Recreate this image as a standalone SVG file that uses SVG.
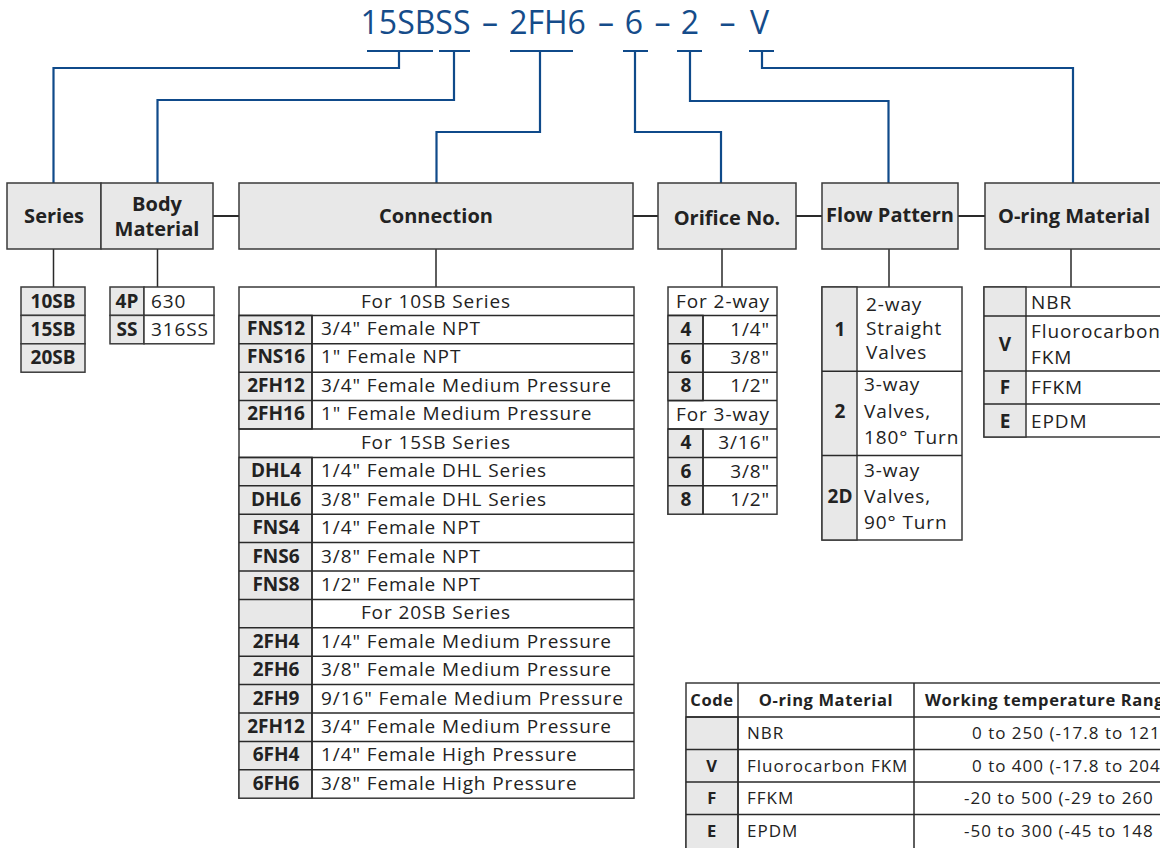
<svg xmlns="http://www.w3.org/2000/svg" width="1160" height="848" viewBox="0 0 1160 848">
<style>
text{font-family:"Open Sans","Noto Sans",sans-serif;fill:#222}
.hdr{fill:#e8e8e8;stroke:#3a3a3a;stroke-width:1.5}
.w{fill:#fff;stroke:#3a3a3a;stroke-width:1.5}
.g{fill:#e8e8e8;stroke:#3a3a3a;stroke-width:1.5}
.ln{stroke:#2a2a2a;stroke-width:1.5;fill:none}
.lk{stroke:#2a2a2a;stroke-width:2;fill:none}
.bl{stroke:#0f4a8a;stroke-width:2.2;fill:none}
.ttl{font-size:32px;fill:#154c8a}
.dash{font-size:32px;fill:#154c8a}
.h{font-weight:bold;font-size:20px}
.t{font-size:19px;letter-spacing:0.9px}
.b{font-weight:bold;font-size:19px}
.s{font-size:17px;letter-spacing:1px}
.sb{font-weight:bold;font-size:16.5px;letter-spacing:0.6px}
.m{text-anchor:middle}
.e{text-anchor:end}
</style>

<g id="title">
<text class="ttl m" x="415.5" y="34">15SBSS</text>
<text class="dash m" x="490" y="34">–</text>
<text class="ttl m" x="547.5" y="34">2FH6</text>
<text class="dash m" x="606" y="34">–</text>
<text class="ttl m" x="634" y="34">6</text>
<text class="dash m" x="662.5" y="34">–</text>
<text class="ttl m" x="690" y="34">2</text>
<text class="dash m" x="727.5" y="34">–</text>
<text class="ttl m" x="759.5" y="34">V</text>
</g>

<g id="connectors">
<path class="bl" d="M367 51H433M399 51V68H53.5V183"/>
<path class="bl" d="M439 51H470M454 51V100H157.5V183"/>
<path class="bl" d="M510 51H573M540 51V132H436.5V183"/>
<path class="bl" d="M623 51H648M635 51V132H721V183"/>
<path class="bl" d="M677 51H702M690 51V101H888.5V183"/>
<path class="bl" d="M749 51H774M762 51V68H1073V183"/>
<path class="lk" d="M213 216H239M633 216H658M796 216H822M958 216H985"/>
<path class="ln" d="M53.5 249V287M157.5 249V287M436 249V287M722 249V287M889 249V287M1071 249V287"/>
</g>

<g id="series">
<rect class="hdr" x="7" y="183" width="94" height="66"/>
<text class="h m" x="54" y="223">Series</text>
</g>
<g id="body-material">
<rect class="hdr" x="101" y="183" width="112" height="66"/>
<text class="h m" x="157" y="211">Body</text>
<text class="h m" x="157" y="236">Material</text>
</g>
<g id="connection">
<rect class="hdr" x="239" y="183" width="394" height="66"/>
<text class="h m" x="436" y="223">Connection</text>
</g>
<g id="orifice">
<rect class="hdr" x="658" y="183" width="138" height="66"/>
<text class="h m" x="727" y="225">Orifice No.</text>
</g>
<g id="flow-pattern">
<rect class="hdr" x="822" y="183" width="136" height="66"/>
<text class="h m" x="890" y="222">Flow Pattern</text>
</g>
<g id="oring">
<rect class="hdr" x="985" y="183" width="200" height="66"/>
<text class="h" x="998" y="223">O-ring Material</text>
</g>

<g id="series-table">
<rect class="g" x="21" y="287" width="64" height="28.4"/>
<rect class="g" x="21" y="315.4" width="64" height="28.4"/>
<rect class="g" x="21" y="343.8" width="64" height="28.4"/>
<text class="b m" x="53" y="307.5">10SB</text>
<text class="b m" x="53" y="335.9">15SB</text>
<text class="b m" x="53" y="364.3">20SB</text>
</g>

<g id="body-table">
<rect class="g" x="110" y="287" width="34" height="28.4"/>
<rect class="w" x="144" y="287" width="70" height="28.4"/>
<rect class="g" x="110" y="315.4" width="34" height="28.4"/>
<rect class="w" x="144" y="315.4" width="70" height="28.4"/>
<text class="b m" x="127" y="307.5">4P</text>
<text class="t" x="151" y="307.5">630</text>
<text class="b m" x="127" y="335.9">SS</text>
<text class="t" x="151" y="335.9">316SS</text>
</g>

<g id="connection-table">
<rect class="w" x="239" y="287" width="395" height="511.2"/>
<rect class="g" x="239" y="315.4" width="73" height="113.6"/>
<rect class="g" x="239" y="457.4" width="73" height="340.8"/>
<path class="ln" d="M312 315.4V429M312 457.4V798.2M239 315.4H634M239 343.8H634M239 372.2H634M239 400.6H634M239 429H634M239 457.4H634M239 485.8H634M239 514.2H634M239 542.6H634M239 571H634M239 599.4H634M239 627.8H634M239 656.2H634M239 684.6H634M239 713H634M239 741.4H634M239 769.8H634"/>
<text class="t m" x="436" y="307.5">For 10SB Series</text>
<text class="b m" x="276" y="335">FNS12</text><text class="t" x="321" y="335">3/4" Female NPT</text>
<text class="b m" x="276" y="363.4">FNS16</text><text class="t" x="321" y="363.4">1" Female NPT</text>
<text class="b m" x="276" y="391.8">2FH12</text><text class="t" x="321" y="391.8">3/4" Female Medium Pressure</text>
<text class="b m" x="276" y="420.2">2FH16</text><text class="t" x="321" y="420.2">1" Female Medium Pressure</text>
<text class="t m" x="436" y="449">For 15SB Series</text>
<text class="b m" x="276" y="477.4">DHL4</text><text class="t" x="321" y="477.4">1/4" Female DHL Series</text>
<text class="b m" x="276" y="505.8">DHL6</text><text class="t" x="321" y="505.8">3/8" Female DHL Series</text>
<text class="b m" x="276" y="534.2">FNS4</text><text class="t" x="321" y="534.2">1/4" Female NPT</text>
<text class="b m" x="276" y="562.6">FNS6</text><text class="t" x="321" y="562.6">3/8" Female NPT</text>
<text class="b m" x="276" y="591">FNS8</text><text class="t" x="321" y="591">1/2" Female NPT</text>
<text class="t m" x="436" y="619.4">For 20SB Series</text>
<text class="b m" x="276" y="647.8">2FH4</text><text class="t" x="321" y="647.8">1/4" Female Medium Pressure</text>
<text class="b m" x="276" y="676.2">2FH6</text><text class="t" x="321" y="676.2">3/8" Female Medium Pressure</text>
<text class="b m" x="276" y="704.6">2FH9</text><text class="t" x="321" y="704.6">9/16" Female Medium Pressure</text>
<text class="b m" x="276" y="733">2FH12</text><text class="t" x="321" y="733">3/4" Female Medium Pressure</text>
<text class="b m" x="276" y="761.4">6FH4</text><text class="t" x="321" y="761.4">1/4" Female High Pressure</text>
<text class="b m" x="276" y="789.8">6FH6</text><text class="t" x="321" y="789.8">3/8" Female High Pressure</text>
</g>

<g id="orifice-table">
<rect class="w" x="668" y="287" width="109" height="227.2"/>
<rect class="g" x="668" y="315.4" width="35" height="85.2"/>
<rect class="g" x="668" y="429" width="35" height="85.2"/>
<path class="ln" d="M703 315.4V400.6M703 429V514.2M668 315.4H777M668 343.8H777M668 372.2H777M668 400.6H777M668 429H777M668 457.4H777M668 485.8H777"/>
<text class="t m" x="723" y="307.5">For 2-way</text>
<text class="b m" x="686" y="335.5">4</text><text class="t e" x="770" y="335.5">1/4"</text>
<text class="b m" x="686" y="363.9">6</text><text class="t e" x="770" y="363.9">3/8"</text>
<text class="b m" x="686" y="392.3">8</text><text class="t e" x="770" y="392.3">1/2"</text>
<text class="t m" x="723" y="420.7">For 3-way</text>
<text class="b m" x="686" y="449.1">4</text><text class="t e" x="770" y="449.1">3/16"</text>
<text class="b m" x="686" y="477.5">6</text><text class="t e" x="770" y="477.5">3/8"</text>
<text class="b m" x="686" y="505.9">8</text><text class="t e" x="770" y="505.9">1/2"</text>
</g>

<g id="flow-table">
<rect class="w" x="822" y="287" width="140" height="253"/>
<rect class="g" x="822" y="287" width="35" height="253"/>
<path class="ln" d="M822 371.3H962M822 455.6H962"/>
<text class="b m" x="840" y="336">1</text>
<text class="t" x="866" y="311">2-way</text>
<text class="t" x="866" y="335">Straight</text>
<text class="t" x="866" y="359">Valves</text>
<text class="b m" x="840" y="418">2</text>
<text class="t" x="864" y="391">3-way</text>
<text class="t" x="864" y="418">Valves,</text>
<text class="t" x="864" y="444">180° Turn</text>
<text class="b m" x="840" y="503">2D</text>
<text class="t" x="864" y="477">3-way</text>
<text class="t" x="864" y="503">Valves,</text>
<text class="t" x="864" y="529">90° Turn</text>
</g>

<g id="oring-table">
<rect class="w" x="984" y="287" width="200" height="150"/>
<rect class="g" x="984" y="287" width="42" height="150"/>
<path class="ln" d="M984 316H1184M984 371H1184M984 404H1184"/>
<text class="t" x="1031" y="308.5">NBR</text>
<text class="b m" x="1005" y="351">V</text>
<text class="t" x="1031" y="338">Fluorocarbon</text>
<text class="t" x="1031" y="364">FKM</text>
<text class="b m" x="1005" y="394">F</text>
<text class="t" x="1031" y="394">FFKM</text>
<text class="b m" x="1005" y="428">E</text>
<text class="t" x="1031" y="428">EPDM</text>
</g>

<g id="temperature-table">
<rect class="w" x="686" y="683" width="500" height="170"/>
<rect class="g" x="686" y="717" width="52" height="136"/>
<path class="ln" d="M738 683V853M914 683V853M686 717H1186M686 749.5H1186M686 782H1186M686 814.5H1186"/>
<text class="sb m" x="712" y="706">Code</text>
<text class="sb m" x="826" y="706">O-ring Material</text>
<text class="sb" x="925" y="706">Working temperature Rang</text>
<text class="s" x="747" y="739">NBR</text>
<text class="s" x="972" y="739">0 to 250 (-17.8 to 121</text>
<text class="sb m" x="712" y="772">V</text>
<text class="s" x="747" y="772">Fluorocarbon FKM</text>
<text class="s" x="972" y="772">0 to 400 (-17.8 to 204</text>
<text class="sb m" x="712" y="804">F</text>
<text class="s" x="747" y="804">FFKM</text>
<text class="s" x="964" y="804">-20 to 500 (-29 to 260</text>
<text class="sb m" x="712" y="837">E</text>
<text class="s" x="747" y="837">EPDM</text>
<text class="s" x="964" y="837">-50 to 300 (-45 to 148</text>
</g>
</svg>
